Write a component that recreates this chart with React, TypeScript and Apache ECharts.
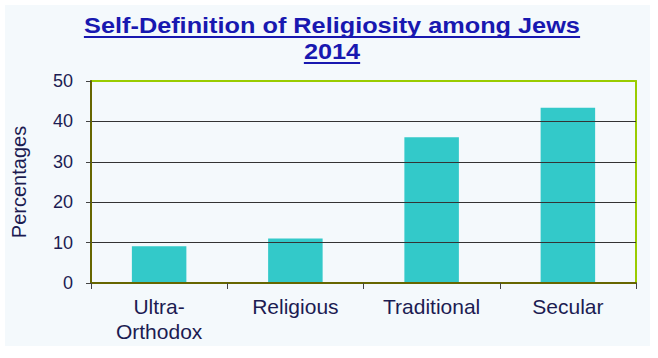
import React, { useEffect, useRef } from "react";
import * as echarts from "echarts";

const categories = ["Ultra-\nOrthodox", "Religious", "Traditional", "Secular"];
const values = [9.1, 11.0, 36.1, 43.4];
const titleLines = ["Self-Definition of Religiosity among Jews", "2014"];
const yAxisName = "Percentages";

const W = 658;
const H = 358;

export default function App() {
  const ref = useRef<HTMLDivElement>(null);

  useEffect(() => {
    document.body.style.margin = "0";
    const chart = echarts.init(ref.current!, undefined, { renderer: "svg" });

    const titleFont = 'bold 22px "Liberation Sans", Arial, sans-serif';
    const cv = document.createElement("canvas");
    const ctx = cv.getContext("2d")!;
    ctx.font = titleFont;
    const cx = 332;
    const sx = 1.15;
    const titleColor = "#1818b0";
    const lineYs = [26, 52];
    const titleGraphics: any[] = [];
    titleLines.forEach((t, i) => {
      const w = ctx.measureText(t).width * sx;
      titleGraphics.push({
        type: "text",
        x: cx,
        y: lineYs[i],
        scaleX: sx,
        z: 10,
        style: {
          text: t,
          font: titleFont,
          fill: titleColor,
          align: "center",
          verticalAlign: "middle",
        },
      });
      titleGraphics.push({
        type: "line",
        z: 10,
        shape: { x1: cx - w / 2, y1: lineYs[i] + 11, x2: cx + w / 2, y2: lineYs[i] + 11 },
        style: { stroke: titleColor, lineWidth: 2 },
      });
    });

    const labelColor = "#1c1c52";

    chart.setOption({
      animation: false,
      backgroundColor: "#ffffff",
      graphic: [
        {
          type: "rect",
          z: -10,
          shape: { x: 5, y: 5, width: 645, height: 341 },
          style: { fill: "#f4f9fc" },
          silent: true,
        },
        ...titleGraphics,
      ],
      grid: { left: 91, right: 22, top: 81, bottom: 75 },
      xAxis: [
        {
          type: "category",
          data: categories,
          position: "bottom",
          axisLine: { onZero: false, lineStyle: { color: "#666600", width: 2 } },
          axisTick: { show: true, length: 6, lineStyle: { color: "#444444" } },
          axisLabel: {
            color: labelColor,
            fontSize: 21,
            lineHeight: 25,
            margin: 11,
            fontFamily: '"Liberation Sans", Arial, sans-serif',
          },
          splitLine: { show: false },
          z: 5,
        },
        {
          type: "category",
          data: categories,
          position: "top",
          axisLine: { onZero: false, lineStyle: { color: "#99cc00", width: 2 } },
          axisTick: { show: false },
          axisLabel: { show: false },
          splitLine: { show: false },
          z: 4,
        },
      ],
      yAxis: [
        {
          type: "value",
          min: 0,
          max: 50,
          interval: 10,
          name: yAxisName,
          nameLocation: "middle",
          nameGap: 62,
          nameRotate: 90,
          nameTextStyle: {
            color: labelColor,
            fontSize: 20,
            fontFamily: '"Liberation Sans", Arial, sans-serif',
          },
          axisLine: { show: true, onZero: false, lineStyle: { color: "#666600", width: 2 } },
          axisTick: { show: true, length: 5, lineStyle: { color: "#444444" } },
          axisLabel: {
            color: labelColor,
            fontSize: 18,
            margin: 18,
            fontFamily: '"Liberation Sans", Arial, sans-serif',
          },
          splitLine: {
            show: true,
            showMinLine: false,
            showMaxLine: false,
            lineStyle: { color: "#333333", width: 1 },
          },
          z: 5,
        },
        {
          type: "value",
          min: 0,
          max: 50,
          interval: 10,
          position: "right",
          axisLine: { show: true, onZero: false, lineStyle: { color: "#99cc00", width: 2 } },
          axisTick: { show: false },
          axisLabel: { show: false },
          splitLine: { show: false },
          z: 4,
        },
      ],
      series: [
        {
          type: "bar",
          data: values,
          xAxisIndex: 0,
          yAxisIndex: 0,
          barWidth: "40%",
          itemStyle: { color: "#33c9c9" },
          z: 2,
        },
      ],
    });

    return () => chart.dispose();
  }, []);

  return (
    <div
      ref={ref}
      style={{ position: "absolute", left: 0, top: 0, width: W, height: H }}
    />
  );
}
